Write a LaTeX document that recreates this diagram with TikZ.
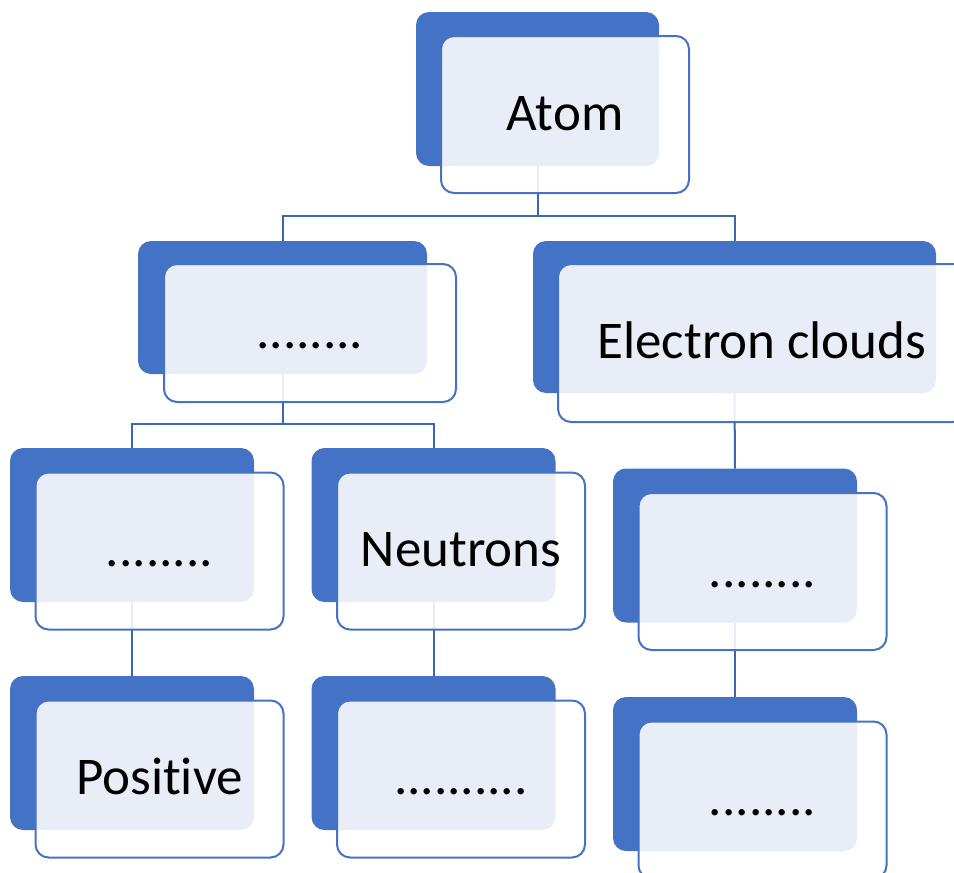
\documentclass[tikz,border=0pt]{standalone}
\usepackage{fontspec}
\setmainfont{Carlito}[Ligatures=NoCommon]
\usepackage{xcolor}
\usepackage{tikz}
\usetikzlibrary{positioning}
\definecolor{accent}{HTML}{4472C4}
\definecolor{linkblue}{HTML}{3D66B0}
\tikzset{
  backbox/.style={
    fill=accent, rounded corners=13pt, inner sep=0pt, outer sep=0pt,
    minimum width=244pt, minimum height=154pt
  },
  frontbox/.style={
    draw=accent, line width=2pt, fill=white, fill opacity=0.88, text opacity=1,
    rounded corners=13pt, inner sep=0pt, outer sep=0pt,
    minimum width=248pt, minimum height=157pt,
    text height=36pt, text depth=5pt,
    font=\fontsize{53}{60}\selectfont, text=black
  },
  link/.style={draw=linkblue, line width=2pt}
}

\begin{document}
\begin{tikzpicture}[x=1pt,y=-1pt]
  \useasboundingbox (0,0) rectangle (954,873);

  % back cards
  \node[backbox, minimum width=243pt] (atomb) at (537.5,89) {};
  \node[backbox, minimum width=289pt, minimum height=133pt] (nucb) at (282.5,307.5) {};
  \node[backbox, minimum width=403pt, minimum height=152pt] (cloudb) at (734.5,317) {};
  \node[backbox] (leftb) at (132,525) {};
  \node[backbox] (neutb) at (433.5,525) {};
  \node[backbox] (shellb) at (735,545.5) {};
  \node[backbox] (posb) at (132,753) {};
  \node[backbox] (neutvalb) at (433.5,753) {};
  \node[backbox] (shellvalb) at (735,774) {};

  % tree lines
  \draw[link] (atomb.south) -- ++(0,50) -| (nucb.north);
  \draw[link] (atomb.south) -- ++(0,50) -| (cloudb.north);
  \draw[link] (nucb.south) -- ++(0,50) -| (leftb.north);
  \draw[link] (nucb.south) -- ++(0,50) -| (neutb.north);
  \draw[link] (cloudb.south) -- (shellb.north);
  \draw[link] (leftb.south) -- (posb.north);
  \draw[link] (neutb.south) -- (neutvalb.north);
  \draw[link] (shellb.south) -- (shellvalb.north);

  % front cards with text
  \node[frontbox] (atom) at ([xshift=27.5pt,yshift=-25.5pt]atomb.center) {Atom};
  \node[frontbox, minimum width=292pt, minimum height=138pt] (nuc) at ([xshift=27.5pt,yshift=-25.5pt]nucb.center) {........};
  \node[frontbox, minimum width=408pt, minimum height=158pt] (cloud) at ([xshift=27.5pt,yshift=-26pt]cloudb.center) {Electron clouds};
  \node[frontbox] (left) at ([xshift=27.5pt,yshift=-26pt]leftb.center) {........};
  \node[frontbox] (neut) at ([xshift=27.5pt,yshift=-26pt]neutb.center) {Neutrons};
  \node[frontbox] (shell) at ([xshift=27.5pt,yshift=-26pt]shellb.center) {........};
  \node[frontbox] (pos) at ([xshift=27.5pt,yshift=-26pt]posb.center) {Positive};
  \node[frontbox] (neutval) at ([xshift=27.5pt,yshift=-26pt]neutvalb.center) {..........};
  \node[frontbox] (shellval) at ([xshift=27.5pt,yshift=-26pt]shellvalb.center) {........};
\end{tikzpicture}
\end{document}
